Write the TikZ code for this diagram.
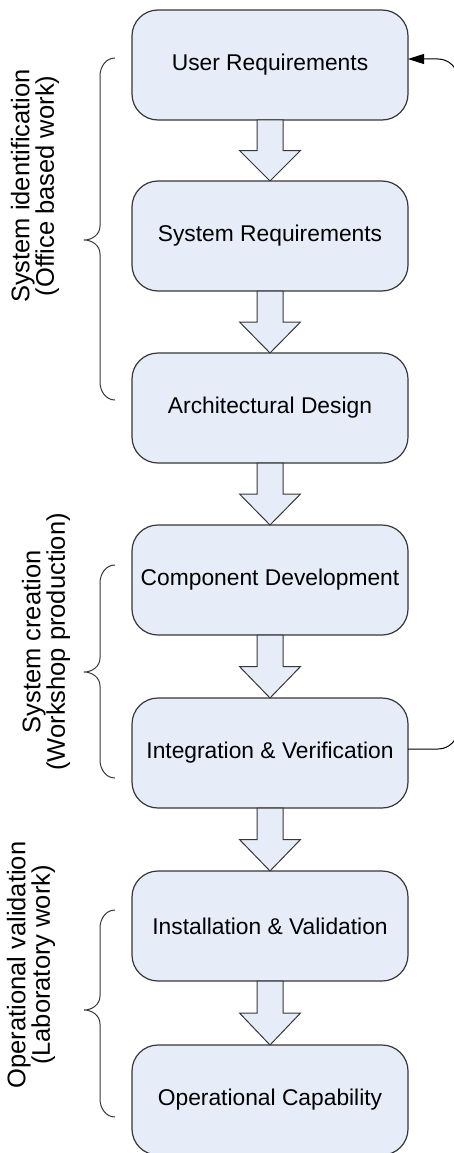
\documentclass[tikz,border=0pt]{standalone}
\usepackage{fontspec}
\setmainfont{Liberation Sans}
\usetikzlibrary{arrows.meta,calc}
\definecolor{boxfill}{RGB}{231,237,248}
\definecolor{boxline}{RGB}{55,55,55}

% hollow block arrow between two stacked stages
\newcommand\stagearrow[2]{%
  \draw[flowarrow] let \p1=(#1.south), \p2=(#2.north),
      \p3=($(#1.south)!0.5!(#2.north)$) in
    (\x1-13pt,\y1) -- (\x1-13pt,\y3) -- (\x1-30.5pt,\y3) -- (\x1,\y2)
    -- (\x1+30.5pt,\y3) -- (\x1+13pt,\y3) -- (\x1+13pt,\y1) -- cycle;}

\begin{document}
\begin{tikzpicture}[x=1pt,y=-1pt,
  stage/.style={draw=boxline, line width=1.2pt, fill=boxfill,
    rounded corners=26pt, minimum width=276pt, minimum height=110pt,
    inner sep=0pt, outer sep=0pt, font=\fontsize{22.8}{26}\selectfont},
  flowarrow/.style={draw=boxline, line width=1pt, fill=boxfill, line join=miter},
  phase/.style={rotate=90, align=center, inner sep=0pt,
    font=\fontsize{25.5}{24.5}\selectfont},
  bracket/.style={draw=boxline, line width=1pt},
  feedback/.style={draw=black, line width=1pt, rounded corners=20pt,
    -{Triangle[length=16pt,width=10pt]}}
]
\useasboundingbox (0,0) rectangle (454,1153);
\clip (0,0) rectangle (454,1153);
\fill[white] (0,0) rectangle (454,1153);

% life-cycle stages
\node[stage] (b1) at (270,65)   {User Requirements};
\node[stage] (b2) at (270,236)  {System Requirements};
\node[stage] (b3) at (270,408)  {Architectural Design};
\node[stage] (b4) at (270,580)  {Component Development};
\node[stage] (b5) at (270,753)  {Integration \& Verification};
\node[stage] (b6) at (270,926)  {Installation \& Validation};
\node[stage] (b7) at (270,1100) {Operational Capability};

\stagearrow{b1}{b2}
\stagearrow{b2}{b3}
\stagearrow{b3}{b4}
\stagearrow{b4}{b5}
\stagearrow{b5}{b6}
\stagearrow{b6}{b7}

% feedback loop back to the requirements
\draw[feedback] ([yshift=4pt]b5.east) -- ++(50,0) |- ([yshift=6pt]b1.east);

% phase brackets
\draw[bracket] (115,58) to[out=180,in=90] (100,76) -- (100,226)
  to[out=-90,in=0] (84,240) to[out=0,in=90] (100,254) -- (100,382)
  to[out=-90,in=180] (115,400);
\draw[bracket] (115,565) to[out=180,in=90] (100,583) -- (100,658)
  to[out=-90,in=0] (84,672) to[out=0,in=90] (100,686) -- (100,760)
  to[out=-90,in=180] (115,778);
\draw[bracket] (115,910) to[out=180,in=90] (100,928) -- (100,996)
  to[out=-90,in=0] (84,1010) to[out=0,in=90] (100,1024) -- (100,1099)
  to[out=-90,in=180] (115,1117);

% phase labels
\node[phase] (g1) at (35,186) {System identification\\(Office based work)};
\node[phase] (g2) at (46,642) {System creation\\(Workshop production)};
\node[phase] (g3) at (31,965) {Operational validation\\(Laboratory work)};
\end{tikzpicture}
\end{document}
